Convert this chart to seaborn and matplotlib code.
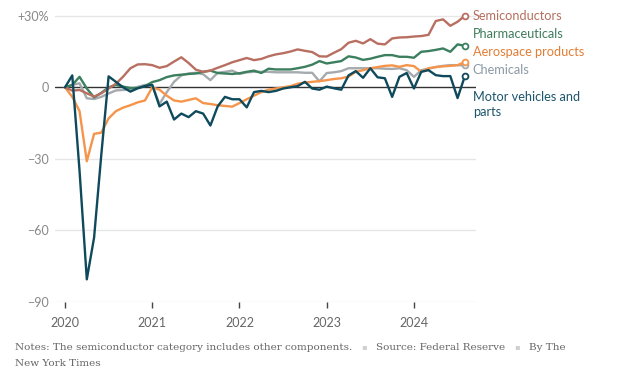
import matplotlib
matplotlib.use("Agg")
import matplotlib.pyplot as plt
import seaborn as sns
import numpy as np
import pandas as pd

# monthly index, Jan 2020 .. Aug 2024, % change since Jan 2020
months = list(range(56))
year_ticks = [0, 12, 24, 36, 48]
year_labels = ["2020", "2021", "2022", "2023", "2024"]
y_ticks = [-90, -60, -30, 0, 30]
y_labels = ["\u221290", "\u221260", "\u221230", "0", "+30%"]

semiconductors = [0, -1.4, -1.1, -2.5, -3.9, -2.5, -0.5, 1.5, 4.5, 8, 9.6, 9.7,
                  9.3, 8.2, 8.9, 10.8, 12.6, 10.2, 7.4, 6.5, 7, 8.2, 9.3, 10.5,
                  11.4, 12.3, 11.4, 11.9, 13, 13.8, 14.3, 15, 15.9, 15.3, 14.8, 13,
                  12.9, 14.5, 16, 18.7, 19.5, 18.4, 20.2, 18.3, 18, 20.5, 20.9, 21,
                  21.3, 21.5, 22, 27.8, 28.5, 25.8, 27.5, 30]
pharmaceuticals = [0, 1, 4.4, -0.5, -4.2, -2.3, 0, 1, 0.3, -0.3, -0.3, 0.5,
                   2.2, 3, 4.3, 5, 5.3, 5.6, 5.8, 6.5, 7, 6, 5.8, 5.6,
                   5.9, 6.5, 7, 6, 7.8, 7.5, 7.5, 7.5, 8, 8.6, 9.5, 11,
                   10, 10.5, 11, 13, 12.5, 11.5, 12, 12.8, 13.5, 13.5, 12.8, 12.8,
                   12.4, 14.9, 15.2, 15.7, 16.3, 14.9, 18, 17.4]
aerospace = [0, -4, -10, -31, -19.5, -19, -13, -10, -8.5, -7.5, -6.3, -5.5,
             0, -1, -3.5, -5.5, -6, -5.3, -4.6, -6.6, -7, -7.5, -7.8, -8.1,
             -6.6, -5, -3.5, -2, -1, -0.5, 0, 0.5, 1.5, 2, 2.3, 2.6,
             3, 3.5, 3.8, 4.5, 6.5, 7.2, 8, 8.5, 9, 9.2, 8.6, 9.3,
             8.9, 6.5, 8, 8.5, 8.8, 9, 9.3, 10.6]
chemicals = [0, 1, 1.7, -4.6, -4.9, -4, -2.6, -1.3, -1.1, -0.8, 0.2, 1,
             1, -7, -2, 2.3, 5, 5.8, 6.1, 5.5, 3, 6.1, 6.5, 7,
             5.6, 6.3, 6.5, 6.5, 6.5, 6.3, 6.3, 6.3, 6.3, 6.1, 6.1, 2.5,
             6, 6.3, 6.8, 8, 8, 8, 8, 8, 7.8, 7.7, 8, 7.2,
             4.4, 7.2, 7.8, 8.5, 9, 9.3, 9.3, 9.2]
motor_vehicles = [0, 5, -35, -80.5, -63, -28, 4.6, 2.3, 0, -1.8, -0.4, 0.5,
                  1, -8, -6, -13.5, -11, -12.5, -10, -11, -16, -8, -4, -5,
                  -5, -8.4, -2, -1.5, -2, -1.5, -0.5, 0, 0.5, 2.3, -0.5, -1,
                  0.3, -0.4, -1, 5, 6.8, 4, 8, 4.2, 3.8, -4, 4.4, 6,
                  -0.5, 6.5, 7.2, 5.1, 4.7, 4.7, -4.5, 4.7]

series = {
    "Chemicals": chemicals,
    "Aerospace products": aerospace,
    "Pharmaceuticals": pharmaceuticals,
    "Semiconductors": semiconductors,
    "Motor vehicles and\nparts": motor_vehicles,
}
line_colors = {
    "Chemicals": "#a5aaae",
    "Aerospace products": "#f5944a",
    "Pharmaceuticals": "#3b7f5e",
    "Semiconductors": "#b86f61",
    "Motor vehicles and\nparts": "#0e4a5c",
}
text_colors = {
    "Chemicals": "#8c99a4",
    "Aerospace products": "#e27d36",
    "Pharmaceuticals": "#3f7d5d",
    "Semiconductors": "#b5705f",
    "Motor vehicles and\nparts": "#1d566c",
}
# label y positions (value units)
label_y = {
    "Semiconductors": 29.9,
    "Pharmaceuticals": 22.3,
    "Aerospace products": 14.8,
    "Chemicals": 7.3,
    "Motor vehicles and\nparts": -7.3,
}

notes = ["Notes: The semiconductor category includes other components.",
         "Source: Federal Reserve", "By The"]
notes_line2 = "New York Times"

df = pd.concat([pd.DataFrame({"month": months, "value": v, "series": k})
                for k, v in series.items()], ignore_index=True)

sns.set_theme(style="white")
plt.rcParams["font.family"] = ["Lato", "DejaVu Sans"]

fig = plt.figure(figsize=(6.24, 3.81), dpi=100)
ax = fig.add_axes([55 / 624, 1 - 302 / 381, 421 / 624, 291 / 381])

for yv in [-90, -60, -30, 30]:
    ax.axhline(yv, color="#e6e6e6", lw=1, zorder=0)
ax.axhline(0, color="#333333", lw=1, zorder=1)

sns.lineplot(data=df, x="month", y="value", hue="series",
             hue_order=list(series.keys()), palette=line_colors,
             linewidth=1.7, legend=False, ax=ax, zorder=3)

for name, vals in series.items():
    ax.plot(months[-1], vals[-1], "o", ms=4.2, mfc="white",
            mec=line_colors[name], mew=1.3, zorder=4)
    ax.text(56.1, label_y[name], name, color=text_colors[name], fontsize=9.2,
            va="center", ha="left", clip_on=False, linespacing=1.3)

ax.set_xlim(-10 / 7.27, 411 / 7.27)
ax.set_ylim(-90, 32)
ax.set_xticks(year_ticks)
ax.set_xticklabels(year_labels)
ax.set_yticks(y_ticks)
ax.set_yticklabels(y_labels)
ax.set_xlabel("")
ax.set_ylabel("")
for s in ax.spines.values():
    s.set_visible(False)
ax.tick_params(axis="x", bottom=True, length=4, width=1, color="#444444",
               labelsize=9, labelcolor="#666666", pad=7)
ax.tick_params(axis="y", left=False, length=0, labelsize=9,
               labelcolor="#888888", pad=4.5)

# footnote, pieces separated by light squares
renderer = fig.canvas.get_renderer()
x_px, y_px = 15, 343
note_kw = dict(family="DejaVu Serif", fontsize=7.5, color="#666666", va="top")
for i, piece in enumerate(notes):
    t = fig.text(x_px / 624, 1 - y_px / 381, piece, **note_kw)
    x_px = t.get_window_extent(renderer).x1 + 9
    if i < len(notes) - 1:
        s = fig.text(x_px / 624, 1 - (y_px - 1) / 381, "\u25aa", family="DejaVu Sans",
                     fontsize=6, color="#d0d0d0", va="top")
        x_px = s.get_window_extent(renderer).x1 + 9
fig.text(15 / 624, 1 - (y_px + 16) / 381, notes_line2, **note_kw)

fig.savefig("out.png", dpi=100)
